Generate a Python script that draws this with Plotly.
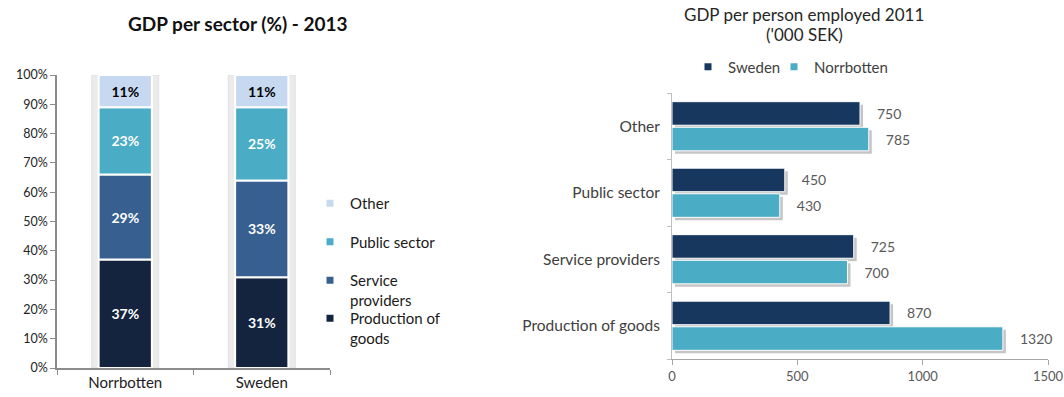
import plotly.graph_objects as go

# ---- left panel: GDP share per sector, 2013 ----
regions = ["Norrbotten", "Sweden"]
sectors = ["Production of goods", "Service providers", "Public sector", "Other"]
share_production = [37, 31]
share_service = [29, 33]
share_public = [23, 25]
share_other = [11, 11]

# ---- right panel: GDP per person employed 2011 ('000 SEK) ----
sectors_h = ["Production of goods", "Service providers", "Public sector", "Other"]
gdp_sweden = [870, 725, 450, 750]
gdp_norrbotten = [1320, 700, 430, 785]
x_ticks = [0, 500, 1000, 1500]

sector_colors = ["#14243f", "#375f90", "#4bacc6", "#c6d9f0"]
label_colors = ["white", "white", "white", "black"]
col_sweden = "#17375e"
col_norr = "#4bacc6"

FONT = "Lato"
W, H = 1064, 397

# right plot area in pixels, and a small drop-shadow offset
RX0, RX1, RY0, RY1 = 672, 1048, 93, 359
SHADOW_PX = 3
x_span = x_ticks[-1] - x_ticks[0]
dx = SHADOW_PX * x_span / (RX1 - RX0)
dy = SHADOW_PX * len(sectors_h) / (RY1 - RY0)

fig = go.Figure()

shares = [share_production, share_service, share_public, share_other]
totals = [sum(v) for v in zip(*shares)]

# soft grey halo behind each stacked column
fig.add_trace(go.Bar(
    x=regions, y=totals, base=[0] * len(regions), width=0.49,
    offsetgroup="stack", marker=dict(color="#ebebeb", line=dict(color="#e0e0e0", width=1)),
    showlegend=False, hoverinfo="skip", xaxis="x", yaxis="y"))

running = [0] * len(regions)
for name, vals, col, tcol in zip(sectors, shares, sector_colors, label_colors):
    fig.add_trace(go.Bar(
        x=regions, y=vals, base=list(running), width=0.39, name=name,
        offsetgroup="stack", marker=dict(color=col, line=dict(color="white", width=2)),
        text=[f"{v}%" for v in vals], textposition="inside", insidetextanchor="middle",
        textangle=0,
        textfont=dict(family=FONT, size=14, color=tcol, weight="bold"),
        showlegend=False, xaxis="x", yaxis="y"))
    running = [r + v for r, v in zip(running, vals)]

# legend swatches for the left panel, listed top to bottom
legend_rows = [
    ("Other", sector_colors[3], "legend"),
    ("Public sector", sector_colors[2], "legend"),
    ("Service<br>providers", sector_colors[1], "legend"),
    ("Production of<br>goods", sector_colors[0], "legend4"),
]
for lab, col, leg in legend_rows:
    fig.add_trace(go.Scatter(
        x=[None], y=[None], mode="markers", name=lab, legend=leg, legendgroup=lab,
        marker=dict(symbol="square", size=7, color=col), xaxis="x", yaxis="y"))

# right panel: drop shadows on a hidden, slightly offset axis pair
for vals in (gdp_norrbotten, gdp_sweden):
    fig.add_trace(go.Bar(
        y=sectors_h, x=vals, orientation="h",
        marker=dict(color="rgba(90,90,90,0.35)", line=dict(width=0)),
        showlegend=False, hoverinfo="skip", xaxis="x2", yaxis="y2"))

# right panel grouped horizontal bars
for vals, col, name in ((gdp_norrbotten, col_norr, "Norrbotten"),
                        (gdp_sweden, col_sweden, "Sweden")):
    fig.add_trace(go.Bar(
        y=sectors_h, x=vals, orientation="h", name=name,
        marker=dict(color=col, line=dict(color="white", width=1)),
        texttemplate="\u2002\u2002%{x}", textposition="outside",
        textfont=dict(family=FONT, size=14, color="#595959"),
        cliponaxis=False, showlegend=False, xaxis="x3", yaxis="y3"))

for lab, col, leg in [("Sweden", col_sweden, "legend2"), ("Norrbotten", col_norr, "legend3")]:
    fig.add_trace(go.Scatter(
        x=[None], y=[None], mode="markers", name=lab, legend=leg,
        marker=dict(symbol="square", size=7, color=col), xaxis="x3", yaxis="y3"))

legend_common = dict(xanchor="left", bgcolor="rgba(0,0,0,0)", itemwidth=30, valign="top")

fig.update_layout(
    width=W, height=H,
    margin=dict(l=0, r=0, t=0, b=0, autoexpand=False),
    paper_bgcolor="white", plot_bgcolor="white",
    font=dict(family=FONT, color="#222222"),
    barmode="group", bargap=0.23, bargroupgap=0.08,
    xaxis=dict(domain=[57 / W, 330 / W], type="category", range=[-0.5, 1.5],
               showline=True, linecolor="#8c8c8c", linewidth=1.5, automargin=False,
               ticks="outside", ticklen=5, tickcolor="#8c8c8c", tickson="boundaries",
               tickfont=dict(size=15, color="#222222"), showgrid=False, zeroline=False,
               anchor="y"),
    yaxis=dict(domain=[1 - 368 / H, 1 - 75 / H], range=[0, 100], dtick=10,
               ticksuffix="%", showline=True, linecolor="#8c8c8c", linewidth=1.5,
               ticks="outside", ticklen=5, tickcolor="#8c8c8c", automargin=False,
               tickfont=dict(size=12.5, color="#222222"), showgrid=False, zeroline=False,
               anchor="x"),
    # hidden axes carrying the shadow bars (shifted right/down by a few pixels)
    xaxis2=dict(domain=[RX0 / W, RX1 / W], range=[x_ticks[0] - dx, x_ticks[-1] - dx],
                visible=False, automargin=False, anchor="y2"),
    yaxis2=dict(domain=[1 - RY1 / H, 1 - RY0 / H], type="category",
                categoryorder="array", categoryarray=sectors_h,
                range=[-0.5 + dy, len(sectors_h) - 0.5 + dy],
                visible=False, automargin=False, anchor="x2"),
    xaxis3=dict(overlaying="x2", range=[x_ticks[0], x_ticks[-1]], tickvals=x_ticks,
                showline=True, linecolor="#a6a6a6", linewidth=1, automargin=False,
                ticks="outside", ticklen=5, tickcolor="#a6a6a6",
                tickfont=dict(size=13, color="#595959"), showgrid=False, zeroline=False,
                anchor="y3"),
    yaxis3=dict(overlaying="y2", type="category",
                categoryorder="array", categoryarray=sectors_h,
                range=[-0.5, len(sectors_h) - 0.5], automargin=False,
                showline=True, linecolor="#bfbfbf", linewidth=1,
                ticks="outside", ticklen=4, tickcolor="#bfbfbf", tickson="boundaries",
                ticklabelstandoff=8,
                tickfont=dict(size=15.5, color="#404040"), showgrid=False, zeroline=False,
                anchor="x3"),
    legend=dict(x=310 / W, y=1 - 187 / H, yanchor="top", traceorder="grouped",
                tracegroupgap=16, font=dict(family=FONT, size=15, color="#1a1a1a"),
                **legend_common),
    legend4=dict(x=310 / W, y=1 - 302 / H, yanchor="top",
                 font=dict(family=FONT, size=15, color="#1a1a1a"), **legend_common),
    legend2=dict(x=688 / W, y=1 - 67 / H, yanchor="middle",
                 font=dict(family=FONT, size=15, color="#404040"), **legend_common),
    legend3=dict(x=774 / W, y=1 - 67 / H, yanchor="middle",
                 font=dict(family=FONT, size=15, color="#404040"), **legend_common),
    annotations=[
        dict(text="<b>GDP per sector (%) - 2013</b>", x=238 / W, y=1 - 23 / H,
             xref="paper", yref="paper", showarrow=False, xanchor="center",
             yanchor="middle", font=dict(family=FONT, size=19, color="#111111")),
        dict(text="GDP per person employed 2011", x=804 / W, y=1 - 15 / H,
             xref="paper", yref="paper", showarrow=False, xanchor="center",
             yanchor="middle", font=dict(family=FONT, size=17, color="#262626")),
        dict(text="('000 SEK)", x=804 / W, y=1 - 35 / H,
             xref="paper", yref="paper", showarrow=False, xanchor="center",
             yanchor="middle", font=dict(family=FONT, size=17, color="#262626")),
    ],
)

fig.write_html("out.html", post_script="document.body.style.margin='0';")
